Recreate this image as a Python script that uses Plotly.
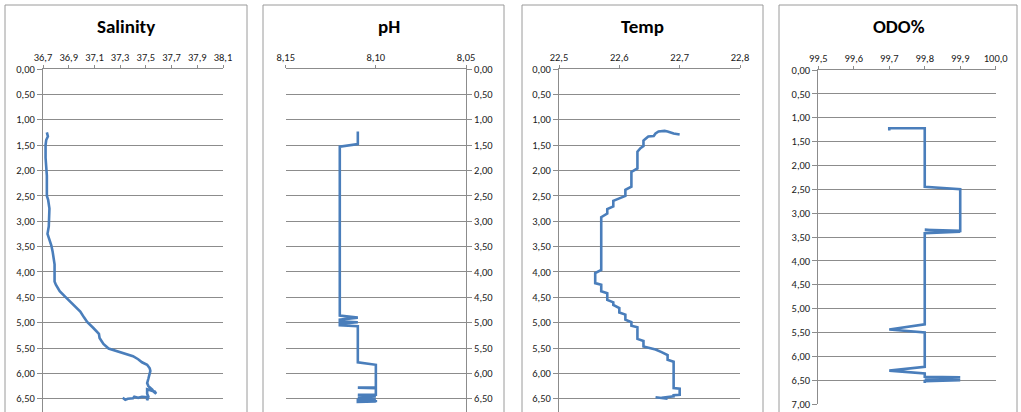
import plotly.graph_objects as go

# ---------------- data ----------------
sal_depth = [1.25, 1.30, 1.33, 1.40, 1.50, 1.75, 2.00, 2.10, 2.50, 2.58, 2.75, 2.85, 2.97, 3.10,
             3.25, 3.32, 3.38, 3.48, 3.60, 3.75, 3.85, 4.00, 4.19, 4.25, 4.38, 4.48, 4.60, 4.78,
             4.90, 4.99, 5.10, 5.22, 5.30, 5.42, 5.51, 5.55, 5.60, 5.66, 5.72, 5.78, 5.83, 5.90,
             5.95, 6.02, 6.10, 6.19, 6.25, 6.32, 6.36, 6.40, 6.36, 6.31, 6.40, 6.46, 6.53, 6.47,
             6.46, 6.48, 6.46, 6.49, 6.50, 6.52, 6.48]
sal_value = [36.730, 36.735, 36.738, 36.725, 36.720, 36.720, 36.725, 36.730, 36.730, 36.740,
             36.750, 36.750, 36.745, 36.745, 36.735, 36.745, 36.755, 36.765, 36.775, 36.785,
             36.790, 36.790, 36.790, 36.800, 36.830, 36.870, 36.920, 36.990, 37.020, 37.045,
             37.090, 37.135, 37.140, 37.170, 37.210, 37.260, 37.320, 37.400, 37.440, 37.470,
             37.510, 37.530, 37.535, 37.530, 37.520, 37.510, 37.520, 37.550, 37.560, 37.580,
             37.570, 37.510, 37.510, 37.520, 37.510, 37.510, 37.470, 37.440, 37.410, 37.400,
             37.360, 37.340, 37.320]

ph_depth = [1.23, 1.48, 1.53, 3.30, 4.86, 4.90, 4.94, 4.97, 4.99, 5.02, 5.05, 5.07, 5.78, 5.83,
            6.28, 6.28, 6.29, 6.42, 6.42, 6.44, 6.46, 6.47, 6.49, 6.50, 6.52, 6.56, 6.55, 6.57]
ph_value = [8.11, 8.11, 8.12, 8.12, 8.12, 8.11, 8.12, 8.12, 8.11, 8.12, 8.12, 8.11, 8.11, 8.10,
            8.10, 8.11, 8.10, 8.10, 8.11, 8.10, 8.11, 8.10, 8.11, 8.10, 8.11, 8.11, 8.10, 8.10]

temp_depth = [1.29, 1.27, 1.23, 1.22, 1.23, 1.27, 1.32, 1.33, 1.38, 1.41, 1.52, 1.56, 1.63, 1.96,
              2.03, 2.32, 2.38, 2.50, 2.55, 2.60, 2.71, 2.76, 2.85, 2.92, 3.96, 4.02, 4.22, 4.25,
              4.38, 4.42, 4.55, 4.60, 4.65, 4.71, 4.80, 4.84, 4.94, 4.99, 5.06, 5.09, 5.32, 5.36,
              5.47, 5.53, 5.58, 5.64, 5.73, 5.77, 6.29, 6.30, 6.42, 6.43, 6.45, 6.46, 6.48, 6.50,
              6.47]
temp_value = [22.700, 22.690, 22.680, 22.675, 22.665, 22.660, 22.657, 22.648, 22.643, 22.640,
              22.640, 22.635, 22.630, 22.630, 22.620, 22.620, 22.610, 22.610, 22.600, 22.590,
              22.590, 22.580, 22.580, 22.570, 22.570, 22.560, 22.560, 22.570, 22.570, 22.580,
              22.580, 22.590, 22.590, 22.600, 22.600, 22.610, 22.610, 22.620, 22.620, 22.630,
              22.630, 22.640, 22.640, 22.660, 22.670, 22.680, 22.680, 22.690, 22.690, 22.700,
              22.700, 22.690, 22.690, 22.680, 22.670, 22.680, 22.660]

odo_depth = [1.27, 1.22, 1.22, 2.45, 2.50, 3.37, 3.35, 3.39, 3.42, 5.33, 5.44, 5.50, 6.22, 6.30,
             6.36, 6.43, 6.44, 6.46, 6.47, 6.49, 6.50, 6.52, 6.56]
odo_value = [99.70, 99.70, 99.80, 99.80, 99.90, 99.90, 99.80, 99.90, 99.80, 99.80, 99.70, 99.80,
             99.80, 99.70, 99.80, 99.80, 99.90, 99.80, 99.90, 99.80, 99.90, 99.80, 99.80]

titles = ["Salinity", "pH", "Temp", "ODO%"]

# ---------------- layout helpers ----------------
W, H = 1021, 412
LINE = "#4A7EBB"
GRID = "#8C8C8C"
FONT = "Calibri, Carlito, Lato, sans-serif"

def px(x):
    return x / W

def py(y):
    return 1 - y / H

fig = go.Figure()
series = [(sal_value, sal_depth), (ph_value, ph_depth), (temp_value, temp_depth), (odo_value, odo_depth)]
for i, (v, d) in enumerate(series):
    sfx = "" if i == 0 else str(i + 1)
    fig.add_trace(go.Scatter(x=v, y=d, mode="lines", xaxis="x" + sfx, yaxis="y" + sfx,
                             line=dict(color=LINE, width=2.6), showlegend=False,
                             hoverinfo="x+y"))

tickfont = dict(family=FONT, size=10.5, color="#1a1a1a")

panels = [
    dict(l=43, r=223, t=69, b=412, xr=[36.7, 38.1], dt=0.2, t0=36.7, fmt=".1f", yr=[6.76, 0], side="left"),
    dict(l=285.7, r=466, t=69, b=412, xr=[8.15, 8.05], dt=0.05, t0=8.05, fmt=".2f", yr=[6.76, 0], side="right"),
    dict(l=559, r=740, t=69, b=412, xr=[22.5, 22.8], dt=0.1, t0=22.5, fmt=".1f", yr=[6.76, 0], side="left"),
    dict(l=818.3, r=995.7, t=70, b=404, xr=[99.5, 100.0], dt=0.1, t0=99.5, fmt=".1f", yr=[7, 0], side="left"),
]

layout = dict(width=W, height=H, autosize=False, margin=dict(l=0, r=0, t=0, b=0, pad=0),
              paper_bgcolor="white", plot_bgcolor="white", separators=",.",
              font=dict(family=FONT, size=10, color="#1a1a1a"), showlegend=False)

for i, p in enumerate(panels):
    sfx = "" if i == 0 else str(i + 1)
    layout["xaxis" + sfx] = dict(
        domain=[px(p["l"]), px(p["r"])], range=p["xr"], side="top", anchor="y" + sfx,
        tick0=p["t0"], dtick=p["dt"], tickformat=p["fmt"], showline=True, linecolor=GRID,
        linewidth=1, ticks="outside", ticklen=3, tickcolor=GRID, showgrid=False,
        zeroline=False, tickfont=tickfont, fixedrange=True, automargin=False)
    layout["yaxis" + sfx] = dict(
        domain=[py(p["b"]), py(p["t"])], range=p["yr"], side=p["side"], anchor="x" + sfx,
        tick0=0, dtick=0.5, tickformat=".2f", showline=True, linecolor=GRID, linewidth=1,
        ticks="outside", ticklen=5, tickcolor=GRID, showgrid=True, gridcolor=GRID,
        gridwidth=1, zeroline=False, tickfont=tickfont, fixedrange=True, automargin=False)

boxes = [(5, 247), (263, 504), (522, 763), (779, 1017)]
title_x = [126, 389, 642, 899]
shapes = []
annotations = []
for (x0, x1), tx, t in zip(boxes, title_x, titles):
    shapes.append(dict(type="rect", xref="paper", yref="paper", x0=px(x0), x1=px(x1),
                       y0=-0.05, y1=py(5), line=dict(color="#9A9A9A", width=1),
                       fillcolor="rgba(0,0,0,0)", layer="below"))
    annotations.append(dict(text="<b>" + t + "</b>", xref="paper", yref="paper", x=px(tx),
                            y=py(27), xanchor="center", yanchor="middle", showarrow=False,
                            font=dict(family=FONT, size=19, color="black")))
layout["shapes"] = shapes
layout["annotations"] = annotations

fig.update_layout(**layout)
fig.write_html("out.html", config={"displayModeBar": False},
               post_script="document.body.style.margin='0';document.body.style.overflow='hidden';")
